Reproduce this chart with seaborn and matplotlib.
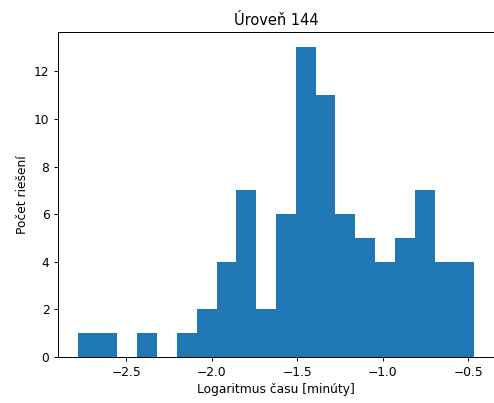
import numpy as np
import pandas as pd
import matplotlib
matplotlib.use("Agg")
import matplotlib.pyplot as plt
import seaborn as sns

# Histogram of log solve times (counts)
log_min = -2.782
log_max = -0.465
counts = [1, 1, 0, 1, 0, 1, 2, 4, 7, 2, 6, 13, 11, 6, 5, 4, 5, 7, 4, 4]

edges = np.linspace(log_min, log_max, len(counts) + 1)
df = pd.DataFrame({"x": (edges[:-1] + edges[1:]) / 2, "n": counts})

# reference looks like a default mpl figure shrunk a bit
s = 0.88
plt.rcParams.update({
    "font.size": 10 * s,
    "axes.titlesize": 12 * s,
    "axes.titlepad": 6 * s,
    "axes.labelpad": 4 * s,
    "xtick.major.size": 3.5 * s,
    "ytick.major.size": 3.5 * s,
    "xtick.major.pad": 3.5 * s,
    "ytick.major.pad": 3.5 * s,
    "axes.linewidth": 0.8 * s,
    "xtick.major.width": 0.8 * s,
    "ytick.major.width": 0.8 * s,
})

fig = plt.figure(figsize=(4.94, 4.03), dpi=100)
ax = fig.add_axes([58 / 494, 46 / 403, 436 / 494, 325 / 403])

sns.histplot(data=df, x="x", weights="n", bins=edges.tolist(), color="#1f77b4",
             alpha=1, linewidth=0, ax=ax)
pad = 0.05 * (log_max - log_min)
ax.set_xlim(log_min - pad, log_max + pad)
ax.set_ylim(0, 13.65)

ax.set_title("Úroveň 144")
ax.set_xlabel("Logaritmus času [minúty]")
ax.set_ylabel("Počet riešení")

fig.savefig("out.png", dpi=100)
